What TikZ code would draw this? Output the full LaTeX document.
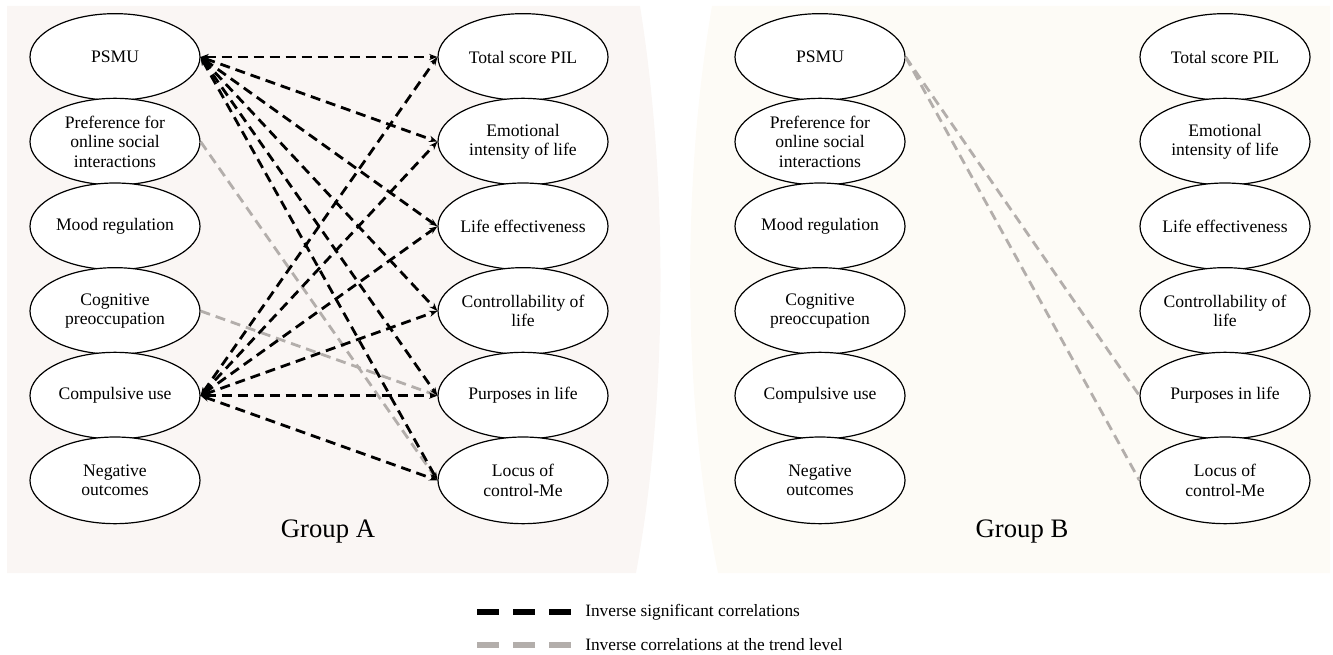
\documentclass[tikz,border=0pt]{standalone}
\usepackage{fontspec}
\setmainfont{Liberation Serif}
\usetikzlibrary{positioning,arrows.meta,shapes.geometric}
\definecolor{panelA}{HTML}{FAF6F4}
\definecolor{panelB}{HTML}{FDFBF6}
\definecolor{trendgrey}{HTML}{B3AEAB}
\tikzset{
  >={Stealth[length=2.2mm]},
  node distance=-2.4pt,
  var/.style={ellipse,draw=black,line width=0.9pt,fill=white,
    minimum width=127.5pt,minimum height=65pt,inner xsep=-14pt,
    inner ysep=-1pt,align=center,font=\fontsize{13.2}{14.5}\selectfont},
  sig/.style={<->,line width=2.1pt,black,dash pattern=on 7.5pt off 4.5pt},
  trend/.style={line width=2.1pt,trendgrey,dash pattern=on 7.5pt off 4.5pt},
  grplbl/.style={font=\fontsize{20}{24}\selectfont},
  legtxt/.style={anchor=west,inner sep=0pt,font=\fontsize{13}{15}\selectfont},
  legsig/.style={line width=5pt,black,dash pattern=on 16.5pt off 10.5pt},
  legtrend/.style={line width=5pt,trendgrey,dash pattern=on 16.5pt off 10.5pt},
}

\begin{document}
\begin{tikzpicture}[x=0.75pt,y=-0.75pt]
  \useasboundingbox (0,0) rectangle (1333,655);
  % panels
  \fill[panelA] (7,6) -- (640,6) .. controls (668,180) and (668,400) .. (636,573)
    -- (7,573) -- cycle;
  \fill[panelB] (712,6) -- (1330,6) -- (1330,573) -- (718,573)
    .. controls (682,400) and (682,180) .. (712,6) -- cycle;

  % Group A
  \node[var] (psmuA) at (115,57) {PSMU};
  \node[var,below=of psmuA] (prefA) {Preference for\\online social\\interactions};
  \node[var,below=of prefA] (moodA) {Mood regulation};
  \node[var,below=of moodA] (cogA) {Cognitive\\preoccupation};
  \node[var,below=of cogA] (compA) {Compulsive use};
  \node[var,below=of compA] (negA) {Negative\\outcomes};
  \node[var] (pilA) at (523,57) {Total score PIL};
  \node[var,below=of pilA] (emoA) {Emotional\\intensity of life};
  \node[var,below=of emoA] (effA) {Life effectiveness};
  \node[var,below=of effA] (ctrlA) {Controllability of\\life};
  \node[var,below=of ctrlA] (purpA) {Purposes in life};
  \node[var,below=of purpA] (locA) {Locus of\\control-Me};
  \node[grplbl] (grpA) at (328,532) {Group A};

  \draw[trend] (prefA.east) -- (locA.west);
  \draw[trend] (cogA.east) -- (purpA.west);
  \foreach \t in {pilA,emoA,effA,ctrlA,purpA,locA}{
    \draw[sig] (psmuA.east) -- (\t.west);
    \draw[sig] (compA.east) -- (\t.west);
  }

  % Group B
  \node[var] (psmuB) at (820,57) {PSMU};
  \node[var,below=of psmuB] (prefB) {Preference for\\online social\\interactions};
  \node[var,below=of prefB] (moodB) {Mood regulation};
  \node[var,below=of moodB] (cogB) {Cognitive\\preoccupation};
  \node[var,below=of cogB] (compB) {Compulsive use};
  \node[var,below=of compB] (negB) {Negative\\outcomes};
  \node[var] (pilB) at (1225,57) {Total score PIL};
  \node[var,below=of pilB] (emoB) {Emotional\\intensity of life};
  \node[var,below=of emoB] (effB) {Life effectiveness};
  \node[var,below=of effB] (ctrlB) {Controllability of\\life};
  \node[var,below=of ctrlB] (purpB) {Purposes in life};
  \node[var,below=of purpB] (locB) {Locus of\\control-Me};
  \node[grplbl] (grpB) at (1022,532) {Group B};

  \draw[trend] (psmuB.east) -- (purpB.west);
  \draw[trend] (psmuB.east) -- (locB.west);

  % legend
  \node[legtxt] (sigtxt) at (585,612) {Inverse significant correlations};
  \node[legtxt] (trendtxt) at (585,645) {Inverse correlations at the trend level};
  \draw[legsig] (sigtxt.west) ++(-108,0) -- ++(94,0);
  \draw[legtrend] (trendtxt.west) ++(-108,0) -- ++(94,0);
\end{tikzpicture}
\end{document}
